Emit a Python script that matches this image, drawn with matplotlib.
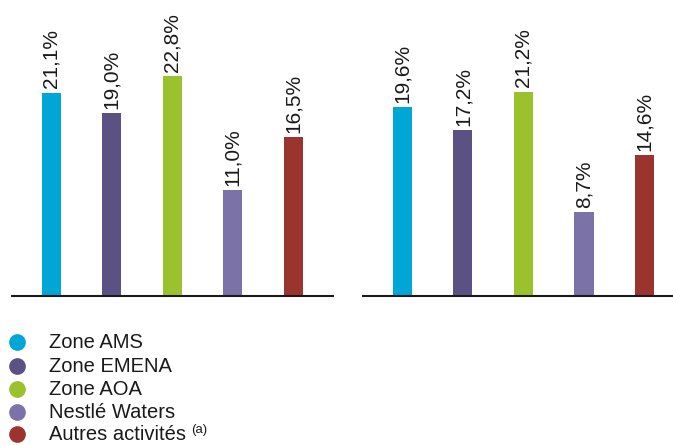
import matplotlib
matplotlib.use("Agg")
import matplotlib.pyplot as plt

# Données
categories = ["Zone AMS", "Zone EMENA", "Zone AOA", "Nestlé Waters", "Autres activités"]
valeurs_gauche = [21.1, 19.0, 22.8, 11.0, 16.5]
valeurs_droite = [19.6, 17.2, 21.2, 8.7, 14.6]
couleurs = ["#00A6D6", "#5B5283", "#9AC22F", "#7B72A8", "#9B342F"]

plt.rcParams['font.family'] = ['Liberation Sans', 'DejaVu Sans']

W, H = 673, 445
fig = plt.figure(figsize=(W / 100, H / 100), dpi=100)


def panneau(x0, x1, xmax, valeurs):
    # axes placés en pixels
    base = H - 296
    ax = fig.add_axes([x0 / W, base / H, (x1 - x0) / W, 241 / H])
    x = range(len(valeurs))
    ax.bar(x, valeurs, width=0.315, color=couleurs)
    for xi, v in zip(x, valeurs):
        lab = ("%.1f%%" % v).replace(".", ",")
        ax.annotate(lab, (xi, v), xytext=(0, 3), textcoords="offset points",
                    rotation=90, ha="center", va="bottom", fontsize=15,
                    color="#1a1a1a", annotation_clip=False)
    ax.set_xlim(-0.65, xmax)
    ax.set_ylim(0, 25)
    for s in ["top", "right", "left"]:
        ax.spines[s].set_visible(False)
    ax.spines["bottom"].set_linewidth(1.5)
    ax.spines["bottom"].set_color("#1a1a1a")
    ax.set_xticks([])
    ax.set_yticks([])
    return ax


panneau(12, 333, 4.66, valeurs_gauche)
panneau(363, 673, 4.47, valeurs_droite)

# Légende (lignes de base en pixels depuis le haut)
lignes = [348, 372, 395, 418, 440]
textes = []
for cat, c, y in zip(categories, couleurs, lignes):
    fig.lines.append(plt.Line2D([17 / W], [1 - (y - 6) / H], marker="o", markersize=11,
                                color=c, transform=fig.transFigure, linestyle=""))
    t = fig.text(49 / W, 1 - y / H, cat, fontsize=14.5, va="baseline",
                 ha="left", color="#1a1a1a")
    textes.append(t)

fig.canvas.draw()
bb = textes[-1].get_window_extent()
fig.text((bb.x1 + 5) / W, 1 - 433 / H, "(a)", fontsize=9.5,
         va="baseline", ha="left", color="#1a1a1a")

fig.savefig("out.png", dpi=100)
